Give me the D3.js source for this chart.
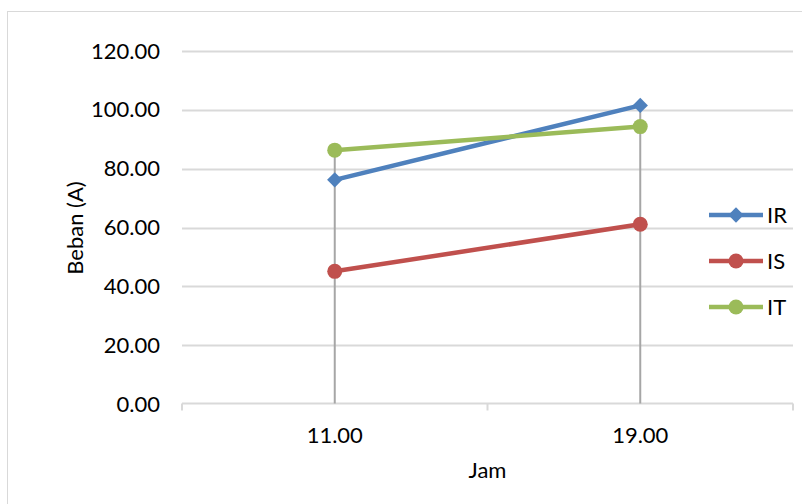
<!DOCTYPE html>
<html>
<head>
<meta charset="utf-8">
<script src="https://cdn.jsdelivr.net/npm/d3@7/dist/d3.min.js"></script>
<style>
  html, body { margin: 0; padding: 0; background: #fff; }
  svg { display: block; font-family: Lato, "Open Sans", sans-serif; }
</style>
</head>
<body>
<svg id="chart" width="802" height="504"></svg>
<script>
// Hours of measurement
const categories = ["11.00", "19.00"];
// Load current per phase (A)
const seriesNames = ["IR", "IS", "IT"];
const irValues = [76.2, 101.5];
const isValues = [45.1, 61.1];
const itValues = [86.3, 94.3];
const yTicks = [0, 20, 40, 60, 80, 100, 120];
const colors = ["#4f81bd", "#c0504d", "#9bbb59"];
const markers = ["diamond", "circle", "circle"];

const series = [irValues, isValues, itValues].map((vals, i) => ({
  name: seriesNames[i], values: vals, color: colors[i], marker: markers[i]
}));

const FONT = 22;
const svg = d3.select("#chart");
const plot = { left: 182, right: 793, top: 51, bottom: 404 };

// Chart frame
svg.append("rect")
  .attr("x", 7.5).attr("y", 11.5).attr("width", 800).attr("height", 500)
  .attr("fill", "#fff").attr("stroke", "#d9d9d9").attr("stroke-width", 1);

const x = d3.scaleBand().domain(categories).range([plot.left, plot.right]);
const y = d3.scaleLinear().domain([0, 120]).range([plot.bottom, plot.top]);

// Horizontal gridlines
svg.append("g")
  .selectAll("line").data(yTicks.filter(t => t > 0)).join("line")
  .attr("x1", plot.left).attr("x2", plot.right)
  .attr("y1", d => Math.round(y(d)) + 0.5).attr("y2", d => Math.round(y(d)) + 0.5)
  .attr("stroke", "#d9d9d9").attr("stroke-width", 2);

// Y axis labels
const yAxis = d3.axisLeft(y).tickValues(yTicks).tickFormat(d3.format(".2f")).tickSize(0).tickPadding(22);
svg.append("g").attr("transform", `translate(${plot.left},0)`).call(yAxis)
  .attr("font-size", FONT).attr("font-family", "Lato, 'Open Sans', sans-serif")
  .call(g => g.select(".domain").remove())
  .call(g => g.selectAll("text").attr("fill", "#000"));

// X axis line with category boundary ticks
const xAxisY = Math.round(y(0)) - 0.5;
svg.append("line")
  .attr("x1", plot.left).attr("x2", plot.right)
  .attr("y1", xAxisY).attr("y2", xAxisY)
  .attr("stroke", "#d9d9d9").attr("stroke-width", 2);
const boundaries = [plot.left, ...categories.map(c => x(c) + x.bandwidth())];
svg.append("g").selectAll("line").data(boundaries).join("line")
  .attr("x1", d => d).attr("x2", d => d)
  .attr("y1", xAxisY).attr("y2", xAxisY + 7)
  .attr("stroke", "#d9d9d9").attr("stroke-width", 2);

// Category labels
svg.append("g").selectAll("text").data(categories).join("text")
  .attr("x", d => x(d) + x.bandwidth() / 2).attr("y", 443)
  .attr("text-anchor", "middle").attr("font-size", FONT).attr("fill", "#000")
  .text(d => d);

// Drop lines from the highest value down to the axis
svg.append("g").selectAll("line").data(categories).join("line")
  .attr("x1", d => x(d) + x.bandwidth() / 2).attr("x2", d => x(d) + x.bandwidth() / 2)
  .attr("y1", (d, i) => y(d3.max(series, s => s.values[i])))
  .attr("y2", xAxisY)
  .attr("stroke", "#a6a6a6").attr("stroke-width", 2);

// Axis titles
svg.append("text").attr("x", (plot.left + plot.right) / 2).attr("y", 478)
  .attr("text-anchor", "middle").attr("font-size", FONT).attr("fill", "#000").text("Jam");
svg.append("text").attr("transform", "translate(83,228) rotate(-90)")
  .attr("text-anchor", "middle").attr("font-size", FONT).attr("fill", "#000").text("Beban (A)");

const cx = (d, i) => x(categories[i]) + x.bandwidth() / 2;
const line = d3.line().x((d, i) => cx(d, i)).y(d => y(d));

function drawMarker(g, marker, color) {
  if (marker === "diamond") {
    g.append("path").attr("d", d3.symbol(d3.symbolDiamond2, 150)()).attr("fill", color);
  } else {
    g.append("circle").attr("r", 7.5).attr("fill", color);
  }
}

// Series lines and markers
series.forEach(s => {
  svg.append("path").datum(s.values)
    .attr("d", line).attr("fill", "none")
    .attr("stroke", s.color).attr("stroke-width", 4.5).attr("stroke-linejoin", "round");
  s.values.forEach((v, i) => {
    const g = svg.append("g").attr("transform", `translate(${cx(v, i)},${y(v)})`);
    drawMarker(g, s.marker, s.color);
  });
});

// Legend
const legendY = [215, 261, 307];
series.forEach((s, i) => {
  const g = svg.append("g").attr("transform", `translate(0,${legendY[i]})`);
  g.append("line").attr("x1", 709).attr("x2", 763).attr("y1", 0).attr("y2", 0)
    .attr("stroke", s.color).attr("stroke-width", 4.5);
  const m = g.append("g").attr("transform", "translate(736,0)");
  drawMarker(m, s.marker, s.color);
  g.append("text").attr("x", 767).attr("y", 8).attr("font-size", FONT).attr("fill", "#000").text(s.name);
});
</script>
</body>
</html>
